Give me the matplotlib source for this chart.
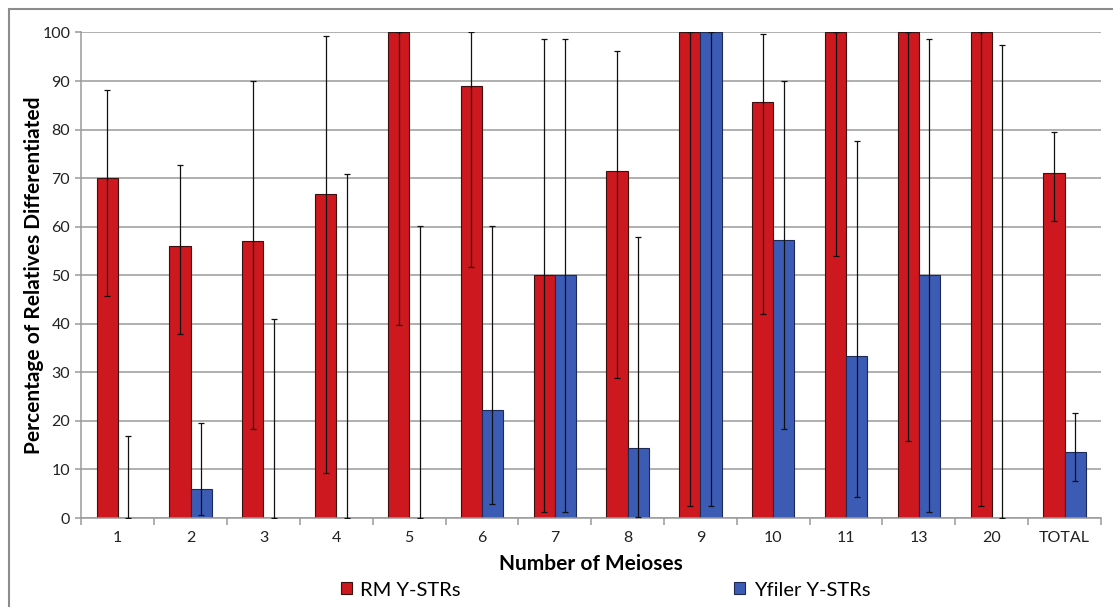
import matplotlib
matplotlib.use("Agg")
import matplotlib.pyplot as plt
from matplotlib.patches import Rectangle, Patch

plt.rcParams['font.family'] = ['Lato', 'DejaVu Sans']

categories = ["1", "2", "3", "4", "5", "6", "7", "8", "9", "10", "11", "13", "20", "TOTAL"]

# RM Y-STRs: value, lower and upper bound of error bar
rm_vals = [70, 56, 57.1, 66.7, 100, 88.9, 50, 71.4, 100, 85.7, 100, 100, 100, 71]
rm_low = [45.7, 37.9, 18.4, 9.3, 39.8, 51.7, 1.2, 28.9, 2.5, 42.1, 53.9, 15.8, 2.5, 61.2]
rm_high = [88.1, 72.8, 90.1, 99.2, 100, 100, 98.6, 96.2, 100, 99.6, 100, 100, 100, 79.4]

# Yfiler Y-STRs
yf_vals = [0, 5.9, 0, 0, 0, 22.3, 50, 14.4, 100, 57.3, 33.3, 50, 0, 13.6]
yf_low = [0, 0.6, 0, 0, 0, 2.8, 1.2, 0.3, 2.5, 18.4, 4.3, 1.2, 0, 7.6]
yf_high = [16.9, 19.6, 40.9, 70.8, 60.1, 60.1, 98.6, 57.8, 100, 90.1, 77.6, 98.6, 97.5, 21.7]

col_rm = "#cc181e"
col_yf = "#3b5bb4"
col_grid = "#9a9a9a"

fig = plt.figure(figsize=(11.13, 6.07), dpi=100)
ax = fig.add_axes([0.0731, 0.1466, 0.9161, 0.7999])

# outer frame (goes out of the picture on right and bottom)
fig.patches.append(Rectangle((9 / 1113, -0.05), 1.2, 1 - 9 / 607 + 0.05, transform=fig.transFigure,
                             fill=False, edgecolor="#8c8c8c", lw=1.5))

w = 0.29
xs = list(range(len(categories)))
x_rm = [x - w / 2 for x in xs]
x_yf = [x + w / 2 for x in xs]

ax.bar(x_rm, rm_vals, width=w, color=col_rm, edgecolor="#3a1010", linewidth=0.8, zorder=2, label="RM Y-STRs")
ax.bar(x_yf, yf_vals, width=w, color=col_yf, edgecolor="#1c2a55", linewidth=0.8, zorder=2, label="Yfiler Y-STRs")

err_rm = [[v - lo for v, lo in zip(rm_vals, rm_low)], [hi - v for v, hi in zip(rm_vals, rm_high)]]
err_yf = [[v - lo for v, lo in zip(yf_vals, yf_low)], [hi - v for v, hi in zip(yf_vals, yf_high)]]
ax.errorbar(x_rm, rm_vals, yerr=err_rm, fmt="none", ecolor="#111111", elinewidth=0.9, capsize=2.5, capthick=0.9, zorder=3)
ax.errorbar(x_yf, yf_vals, yerr=err_yf, fmt="none", ecolor="#111111", elinewidth=0.9, capsize=2.5, capthick=0.9, zorder=3)

ax.set_xlim(-0.5, len(categories) - 0.5)
ax.set_ylim(0, 100)
ax.set_yticks(range(0, 101, 10))
ax.yaxis.grid(True, color=col_grid, lw=1.1, zorder=0)
ax.set_axisbelow(True)

# tick marks between categories, labels in the middle
ax.set_xticks([x - 0.5 for x in range(len(categories) + 1)])
ax.set_xticklabels([])
ax.set_xticks(xs, minor=True)
ax.set_xticklabels(categories, minor=True)
ax.tick_params(axis="x", which="major", length=5, color=col_grid, width=1.1)
ax.tick_params(axis="x", which="minor", length=0, pad=9, labelsize=11.5, labelcolor="#222222")
ax.tick_params(axis="y", length=4, color=col_grid, width=1.1, labelsize=11.5, labelcolor="#222222", pad=4)

for s in ["top", "right"]:
    ax.spines[s].set_visible(False)
for s in ["left", "bottom"]:
    ax.spines[s].set_color(col_grid)
    ax.spines[s].set_linewidth(1.1)

ax.set_ylabel("Percentage of Relatives Differentiated", fontsize=15, fontweight="bold", labelpad=-1)
ax.set_xlabel("Number of Meioses", fontsize=15, fontweight="bold", labelpad=7)

handles = [Patch(facecolor=col_rm, edgecolor="#3a1010", lw=0.8),
           Patch(facecolor=col_yf, edgecolor="#1c2a55", lw=0.8)]
fig.legend(handles, ["RM Y-STRs", "Yfiler Y-STRs"], loc="center", bbox_to_anchor=(0.544, 0.028),
           ncol=2, frameon=False, fontsize=14.5, handlelength=0.55, handleheight=0.55,
           handletextpad=0.4, columnspacing=13.6)

fig.savefig("out.png", dpi=100)
